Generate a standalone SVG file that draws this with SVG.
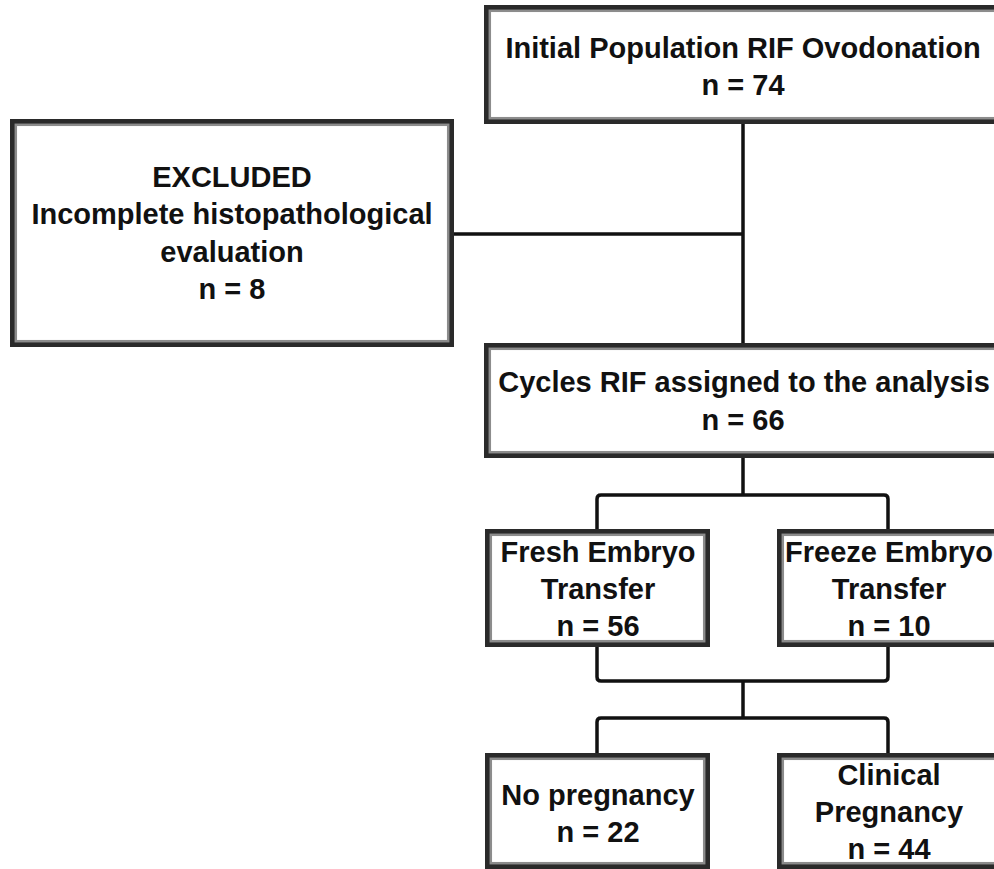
<svg xmlns="http://www.w3.org/2000/svg" width="994" height="869" viewBox="0 0 994 869">
<style>
.box{fill:#fff;stroke:#2a2a2a;stroke-width:7}
.inner{fill:none;stroke:#8c8c8c;stroke-width:2.5}
.t{font-family:"Liberation Sans",Arial,sans-serif;font-weight:bold;font-size:29px;fill:#111;text-anchor:middle}
.c{fill:none;stroke:#111;stroke-width:3.5;stroke-linejoin:round}
</style>
<rect width="994" height="869" fill="#fff"/>
<g id="connectors">
<path class="c" d="M743 124V343"/>
<path class="c" d="M454 234H743"/>
<path class="c" d="M743 458V495"/>
<path class="c" d="M597 529V499Q597 495 601 495H884Q888 495 888 499V529"/>
<path class="c" d="M597 647V677Q597 681 601 681H884Q888 681 888 677V647"/>
<path class="c" d="M743 681V718"/>
<path class="c" d="M597 753V722Q597 718 601 718H884Q888 718 888 722V753"/>
</g>
<g id="initial">
<rect class="box" x="487.5" y="8.5" width="520" height="112"/>
<rect class="inner" x="489.8" y="10.8" width="520" height="107.4"/>
<text class="t" x="743" y="58">Initial Population RIF Ovodonation</text>
<text class="t" x="743" y="95">n = 74</text>
</g>
<g id="excluded">
<rect class="box" x="13.5" y="122.5" width="437" height="221"/>
<rect class="inner" x="15.8" y="124.8" width="432.4" height="216.4"/>
<text class="t" x="232" y="187">EXCLUDED</text>
<text class="t" x="232" y="224">Incomplete histopathological</text>
<text class="t" x="232" y="262">evaluation</text>
<text class="t" x="232" y="299">n = 8</text>
</g>
<g id="cycles">
<rect class="box" x="487.5" y="346.5" width="520" height="108"/>
<rect class="inner" x="489.8" y="348.8" width="520" height="103.4"/>
<text class="t" x="744" y="392">Cycles RIF assigned to the analysis</text>
<text class="t" x="743" y="430">n = 66</text>
</g>
<g id="fresh">
<rect class="box" x="488.5" y="532.5" width="218" height="111"/>
<rect class="inner" x="490.8" y="534.8" width="213.4" height="106.4"/>
<text class="t" x="598" y="562">Fresh Embryo</text>
<text class="t" x="598" y="599">Transfer</text>
<text class="t" x="598" y="636">n = 56</text>
</g>
<g id="freeze">
<rect class="box" x="780.5" y="532.5" width="230" height="111"/>
<rect class="inner" x="782.8" y="534.8" width="230" height="106.4"/>
<text class="t" x="889" y="562">Freeze Embryo</text>
<text class="t" x="889" y="599">Transfer</text>
<text class="t" x="889" y="636">n = 10</text>
</g>
<g id="nopreg">
<rect class="box" x="488.5" y="756.5" width="218" height="109"/>
<rect class="inner" x="490.8" y="758.8" width="213.4" height="104.4"/>
<text class="t" x="598" y="805">No pregnancy</text>
<text class="t" x="598" y="842">n = 22</text>
</g>
<g id="clinical">
<rect class="box" x="780.5" y="756.5" width="230" height="109"/>
<rect class="inner" x="782.8" y="758.8" width="230" height="104.4"/>
<text class="t" x="889" y="785">Clinical</text>
<text class="t" x="889" y="822">Pregnancy</text>
<text class="t" x="889" y="859">n = 44</text>
</g>
</svg>
